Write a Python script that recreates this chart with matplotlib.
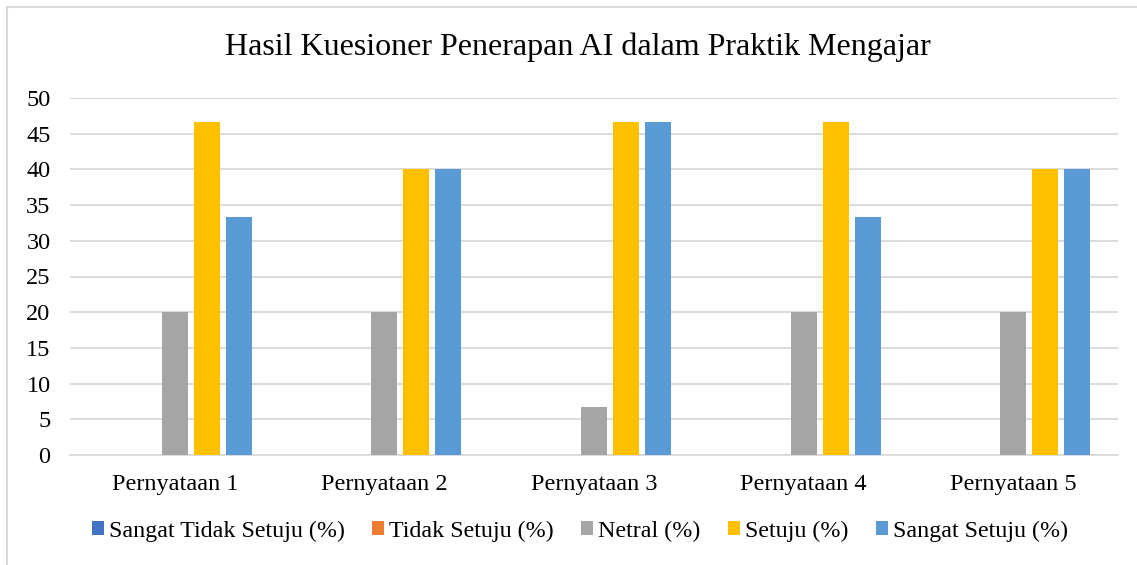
import numpy as np
import matplotlib.pyplot as plt
from matplotlib.lines import Line2D

categories = ['Pernyataan 1', 'Pernyataan 2', 'Pernyataan 3', 'Pernyataan 4', 'Pernyataan 5']
series_names = ['Sangat Tidak Setuju (%)', 'Tidak Setuju (%)', 'Netral (%)', 'Setuju (%)', 'Sangat Setuju (%)']
sangat_tidak_setuju = [0, 0, 0, 0, 0]
tidak_setuju = [0, 0, 0, 0, 0]
netral = [20, 20, 6.67, 20, 20]
setuju = [46.67, 40, 46.67, 46.67, 40]
sangat_setuju = [33.33, 40, 46.67, 33.33, 40]
colors = ['#4472C4', '#ED7D31', '#A5A5A5', '#FFC000', '#5B9BD5']

plt.rcParams['font.family'] = ['Liberation Serif', 'DejaVu Serif']

fig = plt.figure(figsize=(11.37, 5.65), dpi=100)
ax = fig.add_axes([70 / 1137, 1 - 455 / 565, (1118 - 70) / 1137, (455 - 98) / 565])

x = np.arange(len(categories))
step = 32 / 209.6
width = 26 / 209.6
all_series = [sangat_tidak_setuju, tidak_setuju, netral, setuju, sangat_setuju]
for i, (vals, name, c) in enumerate(zip(all_series, series_names, colors)):
    ax.bar(x + (i - 2) * step, vals, width, color=c, label=name, zorder=3)

ax.set_xlim(-0.5, len(categories) - 0.5)
ax.set_ylim(0, 50)
ax.set_yticks(range(0, 51, 5))
ax.set_xticks(x)
ax.set_xticklabels(categories)
ax.tick_params(axis='both', length=0, labelsize=17.5, colors='#000000')
ax.tick_params(axis='y', pad=14)
ax.tick_params(axis='x', pad=14)
ax.grid(axis='y', color='#D9D9D9', linewidth=1.3, zorder=0)
for s in ['top', 'right', 'left']:
    ax.spines[s].set_visible(False)
ax.spines['bottom'].set_color('#D9D9D9')
ax.spines['bottom'].set_linewidth(1.3)

fig.text(0.508, 1 - 47 / 565, 'Hasil Kuesioner Penerapan AI dalam Praktik Mengajar',
         ha='center', va='center', fontsize=23)

handles, labels = ax.get_legend_handles_labels()
fig.legend(handles, labels, loc='center', bbox_to_anchor=(0.51, 1 - 531 / 565), ncol=5,
           frameon=False, fontsize=17.3, handlelength=0.5, handleheight=0.5,
           handletextpad=0.2, columnspacing=1.15)

# chart area border (left and top edges visible)
fig.add_artist(Line2D([7 / 1137, 7 / 1137], [0, 1 - 7 / 565], transform=fig.transFigure,
                      color='#D9D9D9', linewidth=1.5))
fig.add_artist(Line2D([7 / 1137, 1], [1 - 7 / 565, 1 - 7 / 565], transform=fig.transFigure,
                      color='#D9D9D9', linewidth=1.5))

fig.savefig('out.png', dpi=100)
